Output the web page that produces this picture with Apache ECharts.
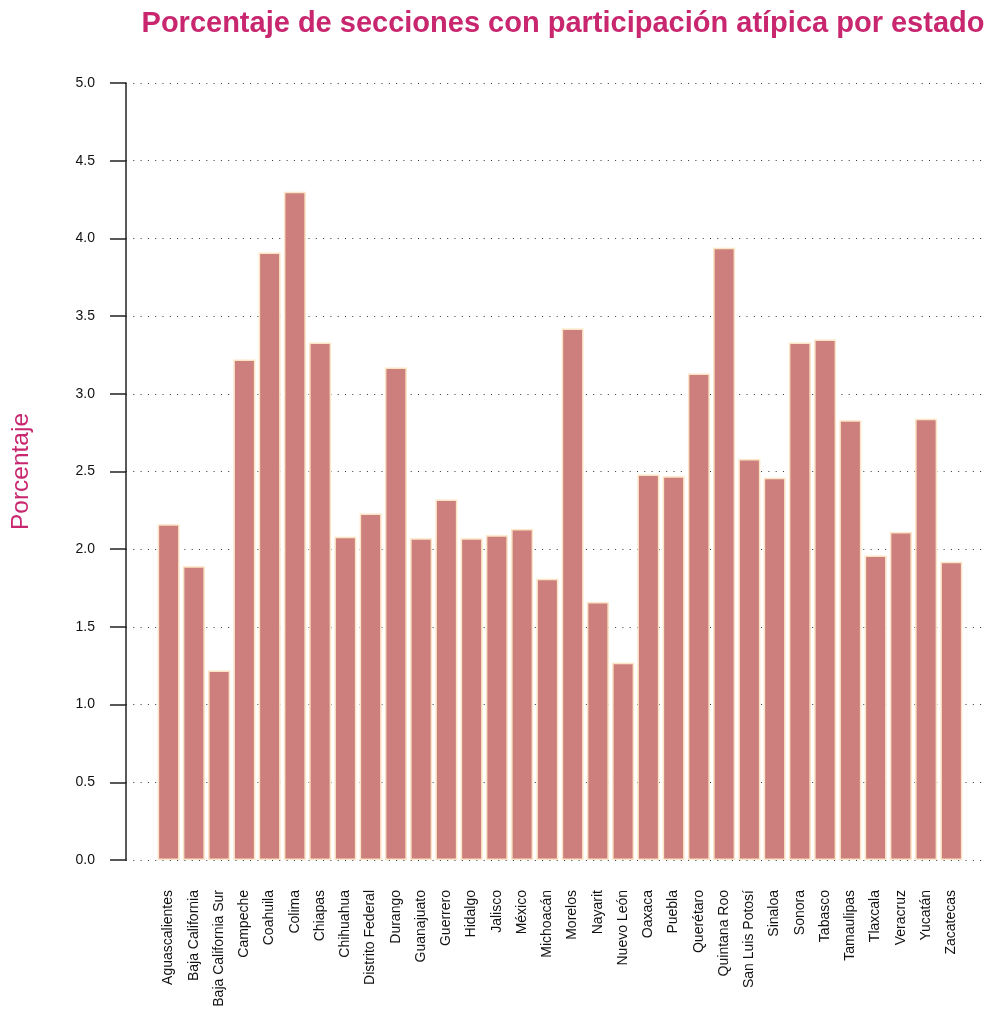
<!DOCTYPE html>
<html>
<head>
<meta charset="utf-8">
<script src="https://cdn.jsdelivr.net/npm/echarts@6/dist/echarts.min.js"></script>
<style>html,body{margin:0;padding:0;background:#fff;}#c{width:991px;height:1014px;}</style>
</head>
<body>
<div id="c"></div>
<script>
const categories = ["Aguascalientes","Baja California","Baja California Sur","Campeche","Coahuila","Colima","Chiapas","Chihuahua","Distrito Federal","Durango","Guanajuato","Guerrero","Hidalgo","Jalisco","México","Michoacán","Morelos","Nayarit","Nuevo León","Oaxaca","Puebla","Querétaro","Quintana Roo","San Luis Potosí","Sinaloa","Sonora","Tabasco","Tamaulipas","Tlaxcala","Veracruz","Yucatán","Zacatecas"];
const values = [2.16,1.89,1.22,3.22,3.91,4.30,3.33,2.08,2.23,3.17,2.07,2.32,2.07,2.09,2.13,1.81,3.42,1.66,1.27,2.48,2.47,3.13,3.94,2.58,2.46,3.33,3.35,2.83,1.96,2.11,2.84,1.92];
const yTicks = [0,0.5,1,1.5,2,2.5,3,3.5,4,4.5,5];

const chart = echarts.init(document.getElementById('c'));
const pink = '#C8266E';
chart.setOption({
  animation:false,
  backgroundColor:'#fff',
  title:{text:'Porcentaje de secciones con participación atípica por estado',left:558,textAlign:'center',top:4,
    textStyle:{fontFamily:'Liberation Sans',fontWeight:'bold',fontSize:29,color:pink}},
  grid:[
    {left:126,right:4,top:83,bottom:154,outerBoundsMode:'none',containLabel:false},
    {left:156,right:27,top:83,bottom:154,outerBoundsMode:'none',containLabel:false}
  ],
  xAxis:[
    {gridIndex:0,type:'value',show:false,min:0,max:1},
    {gridIndex:1,type:'category',data:categories,axisLine:{show:false},axisTick:{show:false},
      axisLabel:{rotate:90,interval:0,margin:30,fontFamily:'Liberation Sans',fontSize:14,color:'#111'}}
  ],
  yAxis:[
    {gridIndex:0,type:'value',min:yTicks[0],max:yTicks[yTicks.length-1],interval:0.5,
      axisLine:{show:true,lineStyle:{color:'#222',width:1.5}},
      axisTick:{show:true,length:16,lineStyle:{color:'#222',width:1.5}},
      axisLabel:{margin:31,fontFamily:'Liberation Sans',fontSize:14,color:'#111',formatter:v=>v.toFixed(1)},
      splitLine:{show:true,lineStyle:{color:'#333',type:[1,6.3],width:1}},
      name:'Porcentaje',nameLocation:'middle',nameGap:92,nameRotate:90,
      nameTextStyle:{fontFamily:'Liberation Sans',fontSize:24.5,color:pink}},
    {gridIndex:1,type:'value',min:0,max:5,show:false,splitLine:{show:false}}
  ],
  series:[{
    type:'bar',xAxisIndex:1,yAxisIndex:1,data:values,barCategoryGap:'13%',
    itemStyle:{color:'#CC7F7D',borderColor:'#FBE5C4',borderWidth:1.5}
  }]
});
</script>
</body>
</html>
